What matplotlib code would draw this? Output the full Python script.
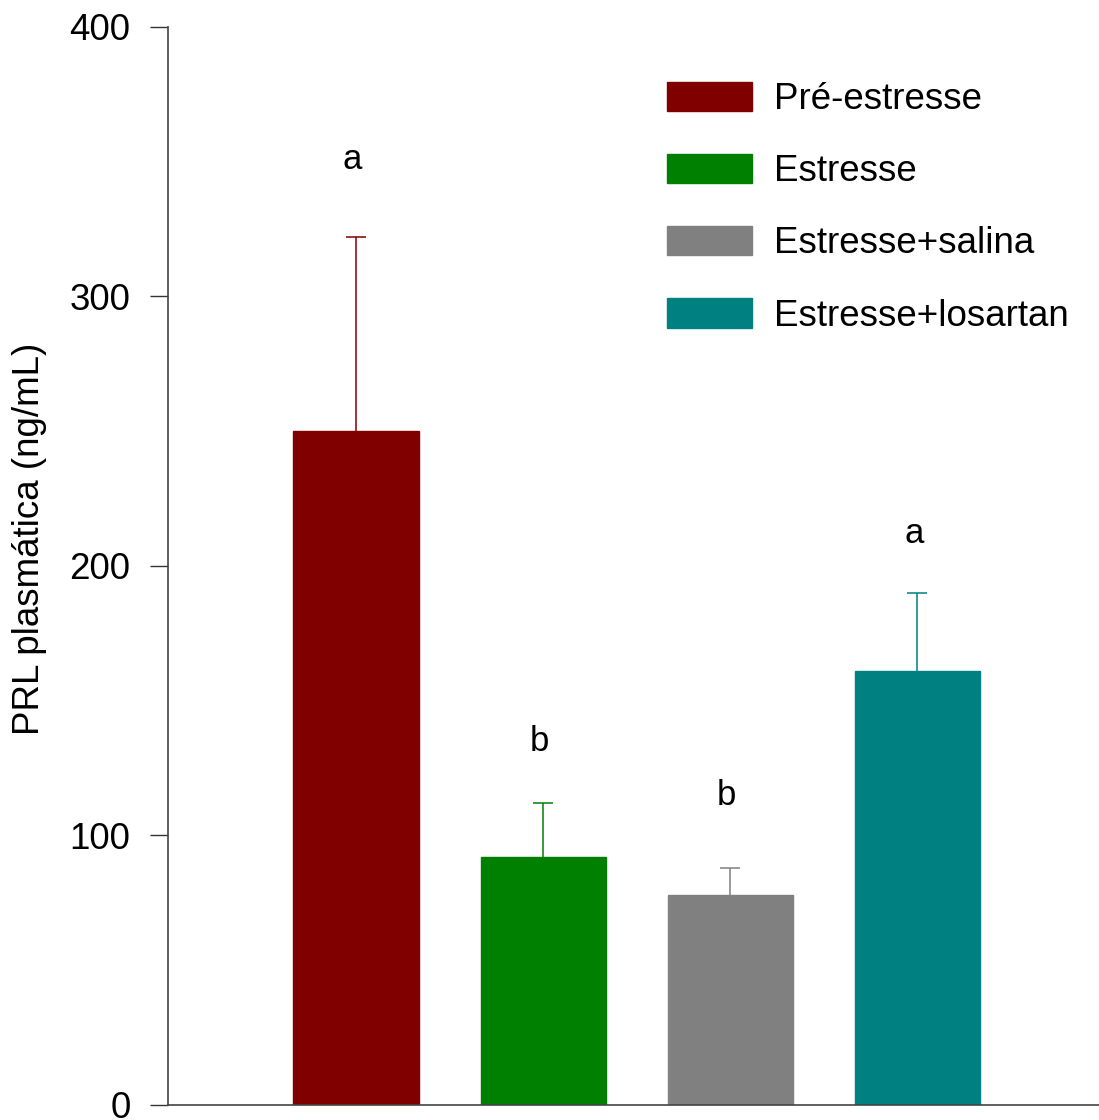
import numpy as np
import matplotlib
matplotlib.use("Agg")
from matplotlib import pyplot as plt

groups = ["Pré-estresse", "Estresse", "Estresse+salina", "Estresse+losartan"]
means = [250, 92, 78, 161]
sems = [72, 20, 10, 29]
letters = ["a", "b", "b", "a"]
letter_y = [351, 135, 115, 212]
colors = ["#800000", "#008000", "#808080", "#008080"]

plt.rcParams['font.family'] = ['Liberation Sans', 'DejaVu Sans']

fig = plt.figure(figsize=(10.99, 11.2), dpi=100)
ax = fig.add_axes([0.1529, 0.0134, 0.8471, 0.9625])

x = np.arange(len(groups))
bars = ax.bar(x, means, width=0.67, color=colors, edgecolor=colors, linewidth=1, label=groups)
for xi, m, s, c in zip(x, means, sems, colors):
    _, caps, _ = ax.errorbar(xi, m, yerr=[[0], [s]], fmt='none', ecolor=c, elinewidth=1.1,
                             capsize=7.2, capthick=1.1)
    # only the top cap is drawn in the original
    for cap in caps:
        if np.allclose(cap.get_ydata(), m):
            cap.set_visible(False)
for xi, t, ty in zip(x, letters, letter_y):
    ax.text(xi - 0.02, ty, t, ha='center', va='center', fontsize=25)

ax.set_xlim(-1.005, 3.97)
ax.set_ylim(0, 400)
ax.set_yticks([0, 100, 200, 300, 400])
ax.tick_params(axis='y', direction='out', length=13, width=1, pad=14, labelsize=26.5, color='#333333')
ax.set_xticks([])
for side in ['top', 'right']:
    ax.spines[side].set_visible(False)
for side in ['left', 'bottom']:
    ax.spines[side].set_color('#444444')
    ax.spines[side].set_linewidth(1.2)
ax.set_ylabel("PRL plasmática (ng/mL)", fontsize=26.5)
ax.yaxis.set_label_coords(-0.13, 0.525)

leg = ax.legend(handles=bars.patches, labels=groups, loc='upper left', bbox_to_anchor=(0.52, 0.963),
                frameon=False, fontsize=26.5, handlelength=2.3, handleheight=0.85,
                handletextpad=0.6, labelspacing=1.0, borderaxespad=0)

fig.savefig("out.png", dpi=100)
